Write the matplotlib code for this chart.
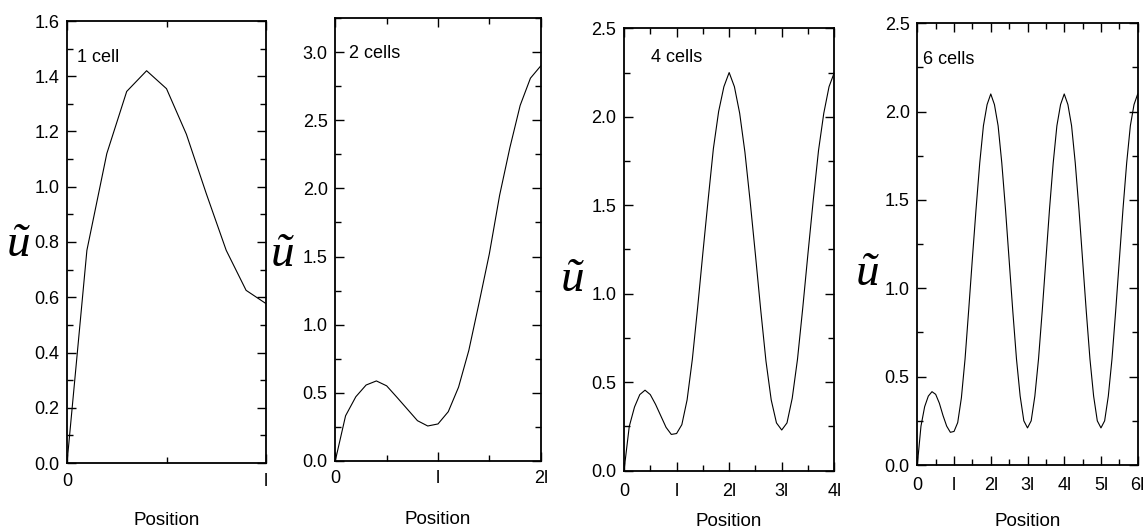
import numpy as np
import matplotlib
matplotlib.use('Agg')
import matplotlib.pyplot as plt
from matplotlib.ticker import MultipleLocator, FixedLocator, FormatStrFormatter

plt.rcParams['font.family'] = ['Liberation Sans', 'DejaVu Sans']

# 1 cell
x1 = np.arange(0, 11) * 0.1
u1 = [0.0, 0.77, 1.12, 1.345, 1.42, 1.355, 1.19, 0.975, 0.77, 0.625, 0.577]

# 2 cells
x2 = np.arange(0, 21) * 0.1
u2 = [0.0, 0.33, 0.47, 0.556, 0.586, 0.55, 0.466, 0.38, 0.294, 0.255, 0.27,
      0.36, 0.54, 0.81, 1.16, 1.52, 1.95, 2.30, 2.61, 2.81, 2.90]

# 4 cells
x3 = np.arange(0, 41) * 0.1
u3 = [0.0, 0.25, 0.36, 0.43, 0.455, 0.43, 0.375, 0.31, 0.245, 0.205, 0.21,
      0.26, 0.40, 0.63, 0.92, 1.23, 1.53, 1.82, 2.03, 2.17, 2.25,
      2.17, 2.02, 1.80, 1.52, 1.22, 0.91, 0.62, 0.40, 0.27, 0.23,
      0.27, 0.41, 0.63, 0.92, 1.23, 1.53, 1.81, 2.02, 2.17, 2.25]

# 6 cells
x4 = np.arange(0, 61) * 0.1
u4 = [0.0, 0.22, 0.33, 0.39, 0.415, 0.40, 0.35, 0.28, 0.22, 0.185, 0.19,
      0.24, 0.38, 0.60, 0.88, 1.17, 1.45, 1.71, 1.92, 2.04, 2.10,
      2.04, 1.92, 1.71, 1.45, 1.16, 0.87, 0.60, 0.39, 0.25, 0.21,
      0.25, 0.39, 0.60, 0.87, 1.16, 1.45, 1.71, 1.92, 2.04, 2.10,
      2.04, 1.92, 1.71, 1.45, 1.16, 0.87, 0.60, 0.39, 0.25, 0.21,
      0.25, 0.39, 0.60, 0.87, 1.16, 1.45, 1.71, 1.92, 2.04, 2.10]

xlabels1 = ['0', 'l']
xlabels2 = ['0', 'l', '2l']
xlabels3 = ['0', 'l', '2l', '3l', '4l']
xlabels4 = ['0', 'l', '2l', '3l', '4l', '5l', '6l']

W, H = 1144, 531
fig = plt.figure(figsize=(W / 100, H / 100), dpi=100)

# (left, right, top, bottom) in pixels
boxes = [(67, 266, 21, 463), (335.3, 540.7, 18.3, 460.7),
         (624, 834.3, 28.3, 470.7), (917.3, 1137.7, 23.3, 465)]

# data, tick labels, ymax, major/minor step, tag, tag pos, ylabel pos, xlabel y, x tick pad
panels = [
    (x1, u1, xlabels1, 1.6, 0.2, 0.1, '1 cell', (0.05, 0.918), (-0.246, 0.493), -0.129, 7),
    (x2, u2, xlabels2, 3.25, 0.5, 0.25, '2 cells', (0.067, 0.921), (-0.255, 0.465), -0.134, 7),
    (x3, u3, xlabels3, 2.5, 0.5, 0.25, '4 cells', (0.128, 0.935), (-0.243, 0.431), -0.114, 9),
    (x4, u4, xlabels4, 2.5, 0.5, 0.25, '6 cells', (0.025, 0.917), (-0.224, 0.432), -0.127, 9),
]

for (l, r, t, b), (x, u, xl, ymax, ymaj, ymin, name, tpos, ypos, xlab_y, xpad) in zip(boxes, panels):
    ax = fig.add_axes([l / W, 1 - b / H, (r - l) / W, (b - t) / H])
    ax.plot(x, u, color='black', linewidth=0.8)
    n = len(xl) - 1
    ax.set_xlim(0, n)
    ax.set_ylim(0, ymax)
    ax.xaxis.set_major_locator(FixedLocator(np.arange(0, n + 1)))
    ax.xaxis.set_minor_locator(MultipleLocator(0.5))
    ax.set_xticklabels(xl)
    ax.yaxis.set_major_locator(MultipleLocator(ymaj))
    ax.yaxis.set_minor_locator(MultipleLocator(ymin))
    ax.yaxis.set_major_formatter(FormatStrFormatter('%.1f'))
    ax.tick_params(axis='both', which='both', direction='in', labelsize=13,
                   top=True, bottom=True, left=True, right=True, width=1.0)
    ax.tick_params(axis='both', which='major', length=6.5)
    ax.tick_params(axis='both', which='minor', length=4)
    ax.tick_params(axis='y', which='major', pad=5.5)
    ax.tick_params(axis='x', which='major', pad=xpad)
    for s in ax.spines.values():
        s.set_linewidth(1.3)
    ax.text(tpos[0], tpos[1], name, transform=ax.transAxes, fontsize=13,
            ha='left', va='center')
    ax.set_ylabel('ũ', family=['Liberation Serif', 'DejaVu Serif'], style='italic',
                  fontsize=34, rotation=0, ha='center', va='center')
    ax.yaxis.set_label_coords(ypos[0], ypos[1])
    ax.set_xlabel('Position', fontsize=13.5, va='center')
    ax.xaxis.set_label_coords(0.5, xlab_y)

plt.savefig('out.png', dpi=100)
